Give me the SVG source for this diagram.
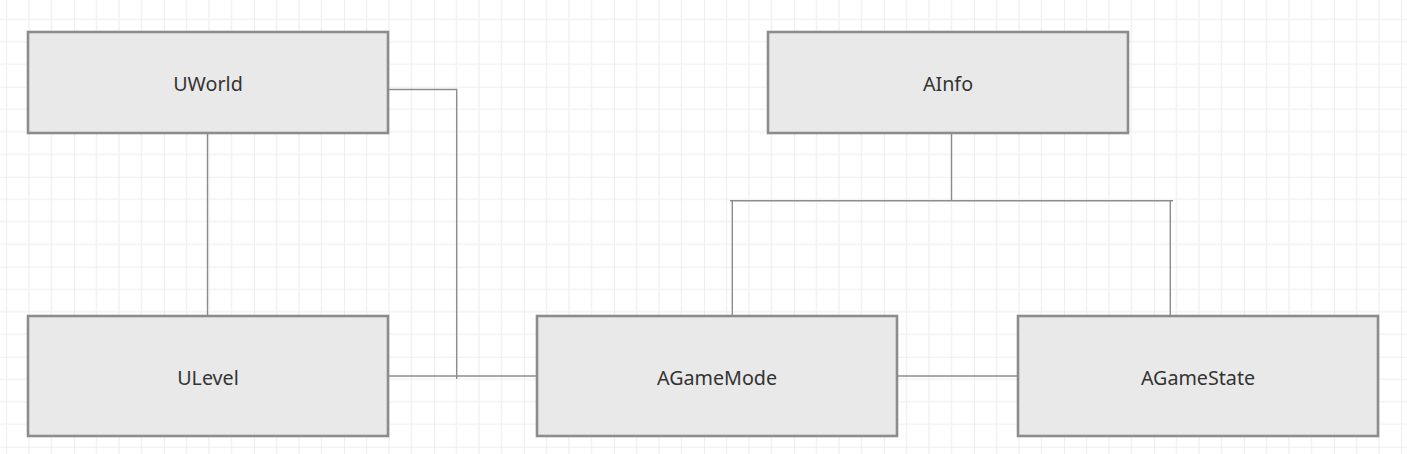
<svg xmlns="http://www.w3.org/2000/svg" width="1407" height="454" viewBox="0 0 1407 454">
<style>
.node rect{fill:#e9e9e9;stroke:#8c8c8c;stroke-width:2.6}
.node text{font-family:"Noto Sans","Open Sans",sans-serif;font-size:19.7px;fill:#333;text-anchor:middle;dominant-baseline:central}
.conn path{fill:none;stroke:#8c8c8c;stroke-width:1.4}
</style>
<defs>
<pattern id="grid" x="-16" y="-3.3" width="90" height="90" patternUnits="userSpaceOnUse">
<path d="M22.5 0V90M45 0V90M67.5 0V90M0 22.5H90M0 45H90M0 67.5H90" stroke="#f2f2f2" stroke-width="1.5" fill="none"/>
<path d="M0 0V90M0 0H90" stroke="#e9e9e9" stroke-width="1.5" fill="none"/>
</pattern>
</defs>
<rect width="1407" height="454" fill="#fff"/>
<rect width="1407" height="454" fill="url(#grid)"/>
<g class="conn" id="connectors">
<path d="M207.5 134V316"/>
<path d="M388 89.5H456.7V379"/>
<path d="M388 376H537"/>
<path d="M951.5 134V200.7"/>
<path d="M730 200.7H1173"/>
<path d="M732.3 200.7V316"/>
<path d="M1170.3 200.7V316"/>
<path d="M897 376H1018"/>
</g>
<g class="node" id="uworld"><rect x="28" y="32" width="360" height="101"/><text x="208" y="83">UWorld</text></g>
<g class="node" id="ainfo"><rect x="768" y="32" width="360" height="101"/><text x="948" y="83">AInfo</text></g>
<g class="node" id="ulevel"><rect x="28" y="316" width="360" height="120"/><text x="208" y="377">ULevel</text></g>
<g class="node" id="agamemode"><rect x="537" y="316" width="360" height="120"/><text x="717" y="377">AGameMode</text></g>
<g class="node" id="agamestate"><rect x="1018" y="316" width="360" height="120"/><text x="1198" y="377">AGameState</text></g>
</svg>
